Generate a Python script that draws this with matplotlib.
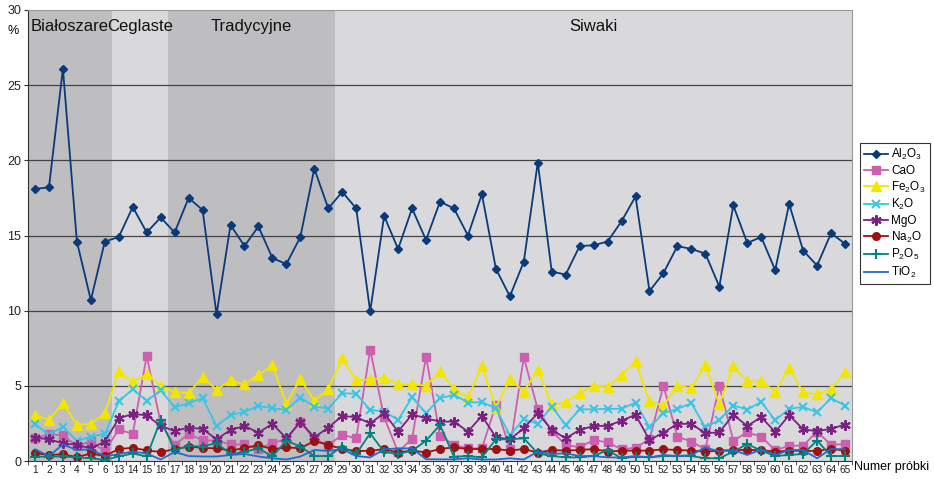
import matplotlib
matplotlib.use("Agg")
import matplotlib.pyplot as plt
import numpy as np

plt.rcParams['font.family'] = ['Liberation Sans', 'DejaVu Sans']
plt.rcParams['mathtext.fontset'] = 'custom'
plt.rcParams['mathtext.rm'] = 'Liberation Sans'
plt.rcParams['mathtext.it'] = 'Liberation Sans'

labels = [str(i) for i in range(1, 7)] + [str(i) for i in range(13, 66)]

Al2O3 = [18.1, 18.2, 26.1, 14.6, 10.7, 14.6,
         14.9, 16.9, 15.2, 16.2, 15.2, 17.5, 16.7, 9.75,
         15.7, 14.3, 15.6, 13.5, 13.1, 14.9, 19.45, 16.8,
         17.9, 16.8, 9.95, 16.3, 14.1, 16.8, 14.7, 17.25, 16.8, 15.0,
         17.75, 12.8, 10.95, 13.25, 19.85, 12.6, 12.4, 14.3, 14.35, 14.6,
         15.95, 17.6, 11.3, 12.5, 14.3, 14.1, 13.8, 11.6, 17.0, 14.5,
         14.9, 12.7, 17.1, 14.0, 13.0, 15.15, 14.45]
CaO = [1.5, 1.8, 1.7, 1.0, 1.3, 0.65,
       2.1, 1.8, 7.0, 2.5, 1.07, 1.8, 1.38, 1.35,
       1.1, 1.1, 0.8, 1.2, 1.45, 2.6, 1.45, 1.05,
       1.75, 1.5, 7.4, 2.9, 0.6, 1.48, 6.95, 1.68, 1.07, 0.84,
       0.84, 3.73, 0.8, 6.9, 3.44, 2.0, 1.07, 0.91, 1.4, 1.24,
       0.78, 0.89, 1.44, 5.0, 1.62, 1.29, 0.78, 5.0, 1.36, 1.9,
       1.62, 0.71, 1.02, 1.02, 1.96, 1.07, 1.13]
Fe2O3 = [3.07, 2.73, 3.84, 2.4, 2.47, 3.18,
         5.96, 5.24, 5.78, 5.0, 4.58, 4.51, 5.58, 4.75,
         5.36, 5.09, 5.73, 6.36, 3.8, 5.47, 4.0, 4.78,
         6.84, 5.36, 5.44, 5.51, 5.11, 5.09, 5.02, 5.96, 4.78, 4.24,
         6.33, 3.55, 5.44, 4.62, 6.07, 3.73, 3.91, 4.51, 5.0, 4.9,
         5.73, 6.62, 3.96, 3.69, 5.02, 4.84, 6.36, 3.78, 6.29, 5.29,
         5.29, 4.62, 6.18, 4.56, 4.44, 4.78, 5.89]
K2O = [2.47, 1.73, 2.29, 1.33, 1.62, 1.8,
       3.96, 4.78, 4.0, 4.69, 3.58, 3.84, 4.18, 2.33,
       3.04, 3.27, 3.67, 3.51, 3.4, 4.22, 3.62, 3.49,
       4.51, 4.47, 3.4, 3.29, 2.73, 4.24, 3.18, 4.18, 4.4, 3.89,
       3.91, 3.51, 1.73, 2.78, 2.47, 3.62, 2.4, 3.44, 3.44, 3.47,
       3.47, 3.89, 2.24, 3.18, 3.47, 3.84, 2.24, 2.73, 3.69, 3.42,
       3.93, 2.71, 3.47, 3.6, 3.23, 4.18, 3.68]
MgO = [1.56, 1.44, 1.18, 1.07, 0.84, 1.29,
       2.84, 3.13, 3.04, 2.33, 2.0, 2.22, 2.13, 1.44,
       2.07, 2.33, 1.89, 2.47, 1.51, 2.6, 1.58, 2.22,
       3.0, 2.91, 2.51, 3.18, 1.96, 3.1, 2.84, 2.62, 2.62, 1.96,
       3.0, 1.58, 1.44, 2.18, 3.18, 2.07, 1.51, 2.07, 2.33, 2.33,
       2.69, 3.07, 1.4, 1.89, 2.47, 2.47, 1.84, 1.91, 3.07, 2.33,
       2.92, 1.93, 3.05, 2.11, 1.98, 2.15, 2.42]
Na2O = [0.52, 0.4, 0.45, 0.25, 0.5, 0.33,
        0.8, 0.88, 0.7, 0.6, 0.78, 0.96, 0.87, 0.84,
        0.7, 0.85, 1.07, 0.78, 0.9, 0.85, 1.33, 1.07,
        0.8, 0.67, 0.67, 0.8, 0.56, 0.71, 0.56, 0.8, 0.91, 0.8,
        0.8, 0.8, 0.69, 0.8, 0.56, 0.73, 0.69, 0.73, 0.8, 0.62,
        0.69, 0.69, 0.69, 0.78, 0.73, 0.69, 0.62, 0.69, 0.73, 0.73,
        0.73, 0.62, 0.69, 0.67, 0.67, 0.8, 0.69]
P2O5 = [0.29, 0.29, 0.3, 0.24, 0.18, 0.07,
        0.3, 0.5, 0.3, 2.73, 0.73, 1.0, 0.96, 1.2,
        0.45, 0.6, 0.84, 0.3, 1.36, 0.96, 0.33, 0.33,
        0.96, 0.47, 1.84, 0.6, 0.47, 0.68, 1.35, 2.4, 0.29, 0.33,
        0.24, 1.44, 1.44, 1.51, 0.51, 0.33, 0.24, 0.24, 0.33, 0.73,
        0.18, 0.29, 0.24, 0.33, 0.33, 0.33, 0.18, 0.18, 0.62, 1.13,
        0.69, 0.33, 0.4, 0.47, 1.36, 0.33, 0.33]
TiO2 = [0.78, 0.33, 1.1, 0.73, 0.78, 0.3,
        0.47, 0.62, 0.5, 0.1, 0.6, 0.33, 0.3, 0.3,
        0.4, 0.47, 0.3, 0.18, 0.1, 0.3, 0.73, 0.67,
        0.78, 0.33, 0.24, 0.78, 0.84, 0.84, 0.12, 0.11, 0.11, 0.18,
        0.1, 0.1, 0.18, 0.1, 0.62, 0.47, 0.51, 0.33, 0.33, 0.24,
        0.24, 0.33, 0.24, 0.4, 0.33, 0.4, 0.91, 0.62, 0.73, 0.4,
        0.78, 0.4, 0.73, 0.73, 0.18, 0.8, 0.78]

groups = ["Białoszare", "Ceglaste", "Tradycyjne", "Siwaki"]
group_sizes = [6, 4, 12, 37]
group_colors = ["#BEBEC0", "#D9D9DB", "#BEBEC0", "#D9D9DB"]

series = [
    ("Al$_2$O$_3$", Al2O3, "#0A3A7A", "D", 4.5),
    ("CaO", CaO, "#CC5FB0", "s", 6.0),
    ("Fe$_2$O$_3$", Fe2O3, "#F2E600", "^", 6.5),
    ("K$_2$O", K2O, "#3CC4E4", "x", 6.0),
    ("MgO", MgO, "#7B2182", (6, 2, 0), 7.5),
    ("Na$_2$O", Na2O, "#9A1212", "o", 5.5),
    ("P$_2$O$_5$", P2O5, "#00837F", "+", 7.5),
    ("TiO$_2$", TiO2, "#1E6CCB", None, 0),
]

fig = plt.figure(figsize=(9.34, 4.79), dpi=100)
ax = fig.add_axes([28/934, 1-461/479, 824/934, 451/479])

x = np.arange(len(labels))
start = -0.5
for g, n, c in zip(groups, group_sizes, group_colors):
    ax.axvspan(start, start + n, color=c, zorder=0, lw=0)
    ax.text(start + n/2, 28.9, g, ha='center', va='center', fontsize=12, color='#111111')
    start += n

for yv in [5, 10, 15, 20, 25]:
    ax.axhline(yv, color='#444444', lw=0.9, zorder=1)

for name, vals, col, mk, ms in series:
    mew = 1.5 if mk in ("x", "+", (6, 2, 0)) else 1.0
    ax.plot(x, vals, color=col, lw=1.3, marker=mk, markersize=ms,
            markeredgewidth=mew, label=name, zorder=3)

ax.set_xlim(-0.5, len(labels) - 0.5)
ax.set_ylim(0, 30)
ax.set_yticks([0, 5, 10, 15, 20, 25, 30])
ax.set_yticklabels(['0', '5', '10', '15', '20', '25', '30'], fontsize=9, color='#222222')
ax.set_xticks(x)
ax.set_xticklabels(labels, fontsize=7.2, color='#222222')
ax.set_xticks(np.arange(-0.5, len(labels), 1), minor=True)
ax.tick_params(axis='x', which='major', length=0, pad=3)
ax.tick_params(axis='x', which='minor', length=3, color='#333333')
ax.tick_params(axis='y', length=3, pad=2, color='#333333')
for s in ax.spines.values():
    s.set_color('#999999')
ax.spines['left'].set_color('#333333')
ax.spines['bottom'].set_color('#333333')

fig.text(13/934, 1-31/479, '%', ha='center', va='center', fontsize=9)
fig.text(892/934, 1-467/479, 'Numer próbki', ha='center', va='center', fontsize=9)

leg = ax.legend(loc='upper left', bbox_to_anchor=((860-28)/824, 1-(143-10)/451),
                frameon=True, fancybox=False, edgecolor='black', fontsize=8.5,
                handlelength=2.0, borderpad=0.35, labelspacing=0.22, handletextpad=0.3,
                borderaxespad=0)
leg.get_frame().set_linewidth(0.8)

fig.savefig("out.png", dpi=100)
